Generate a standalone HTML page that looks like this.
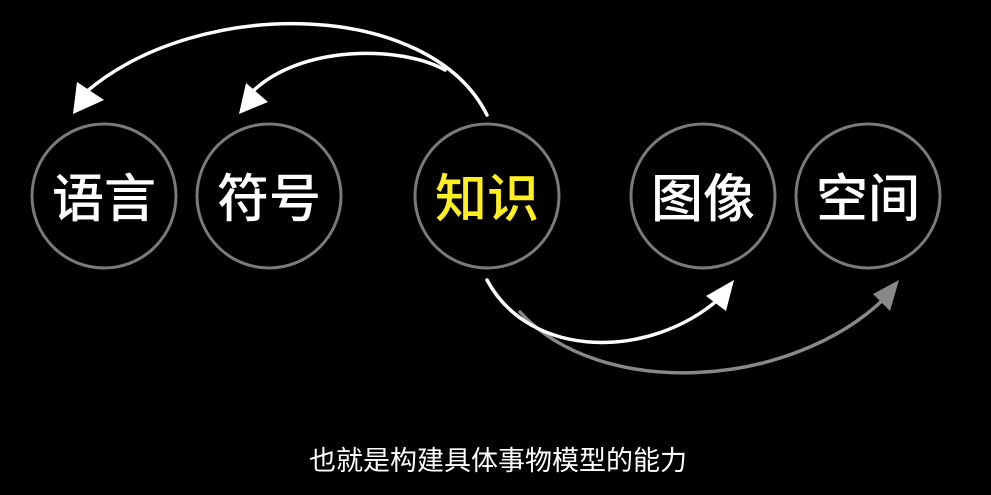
<!DOCTYPE html>
<html><head><meta charset="utf-8"><style>
html,body{margin:0;padding:0;background:#000;width:991px;height:495px;overflow:hidden}
svg{display:block}
text{font-family:"Liberation Sans","Noto Sans CJK SC",sans-serif}
</style></head><body>
<svg width="991" height="495" viewBox="0 0 991 495">
<g fill="none" stroke-linecap="round">
<path d="M487 115 C430 0 200 -5 86 92" stroke="#fff" stroke-width="3.5"/>
<polygon points="73,114 77,82 104,100" fill="#fff" stroke="none"/>
<path d="M445 70 C400 45 300 45 252 92" stroke="#fff" stroke-width="3.5"/>
<polygon points="239,114 246,83 268,102" fill="#fff" stroke="none"/>
<path d="M520 312 C600 400 790 390 885 298" stroke="#888" stroke-width="3.5"/>
<polygon points="899,280 890,311 873,294" fill="#888" stroke="none"/>
<path d="M487 280 C530 360 650 360 720 298" stroke="#fff" stroke-width="3.5"/>
<polygon points="734,280 726,311 706,296" fill="#fff" stroke="none"/>
</g>
<g stroke="#7a7a7a" stroke-width="3" fill="#000">
<circle cx="104" cy="196" r="72"/>
<circle cx="269" cy="196" r="72"/>
<circle cx="487" cy="196" r="72"/>
<circle cx="703" cy="196" r="72"/>
<circle cx="868" cy="196" r="72"/>
</g>
<g font-size="52" font-weight="500" text-anchor="middle" fill="#fff">
<text x="104" y="217">语言</text>
<text x="269" y="217">符号</text>
<text x="487" y="217" fill="#ffee22">知识</text>
<text x="703" y="217">图像</text>
<text x="868" y="217">空间</text>
</g>
<text x="498" y="470" font-size="27" text-anchor="middle" fill="#fff">也就是构建具体事物模型的能力</text>
</svg>
</body></html>
